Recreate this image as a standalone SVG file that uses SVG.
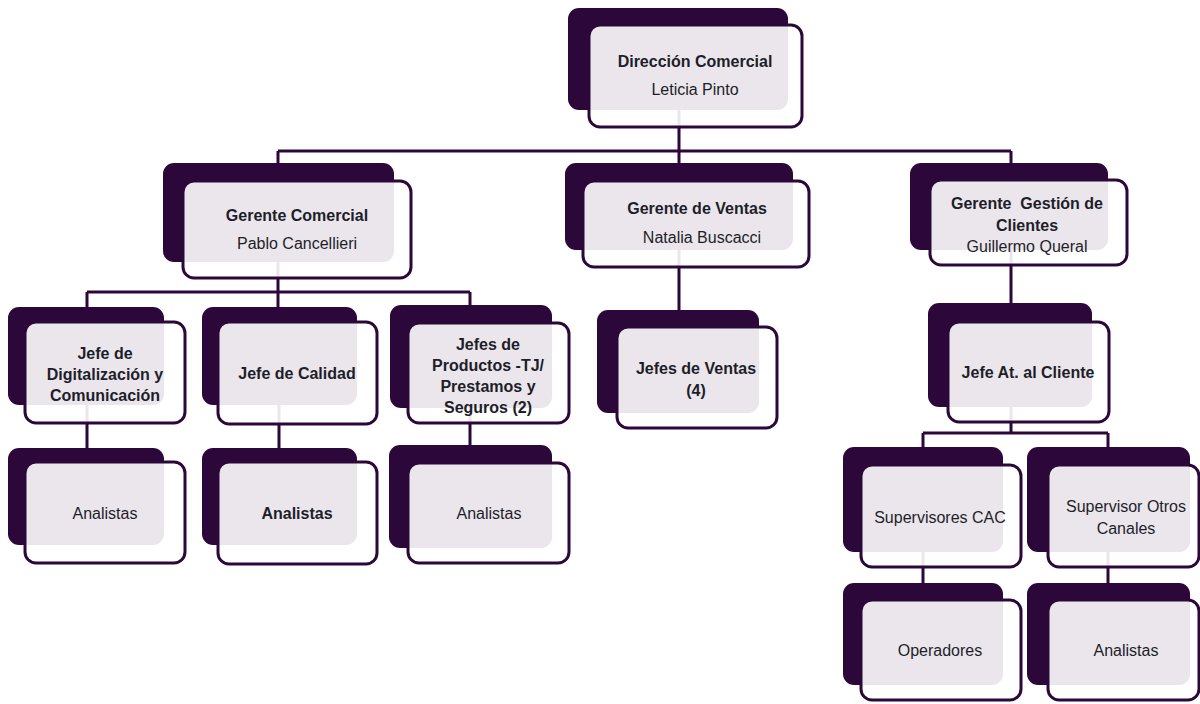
<svg xmlns="http://www.w3.org/2000/svg" width="1200" height="704" viewBox="0 0 1200 704">
<style>
.bk{fill:#2b0839}
.fr{fill:#fff;fill-opacity:.9;stroke:#2b0839;stroke-width:3}
.ln{fill:none;stroke:#2b0839;stroke-width:3}
text{font-family:"Liberation Sans",Arial,sans-serif;font-size:16px;fill:#1e1e2a;text-anchor:middle;white-space:pre}
.b{font-weight:bold}
</style>
<rect width="1200" height="704" fill="#fff"/>
<g id="connectors">
<path class="ln" d="M679 76V151M278 151H1011M278 151V165M1011 151V165M679 151V312"/>
<path class="ln" d="M278 230V292M87 292H470M87 292V309M278 292V309M470 292V307"/>
<path class="ln" d="M87 372V449M279 372V449M470 372V447"/>
<path class="ln" d="M1011 222V305M1011 372V433M923 433H1108M923 433V449M1108 433V449"/>
<path class="ln" d="M923 516V585M1108 516V585"/>
</g>
<g id="n-direccion">
<rect class="bk" x="568" y="8" width="220" height="102" rx="11"/>
<rect class="fr" x="589" y="25" width="213" height="102" rx="11"/>
<text class="b" x="695" y="67">Dirección Comercial</text>
<text x="695" y="95">Leticia Pinto</text>
</g>
<g id="n-gerente-comercial">
<rect class="bk" x="163" y="163" width="231" height="99" rx="11"/>
<rect class="fr" x="183" y="181" width="228" height="97" rx="11"/>
<text class="b" x="297" y="221">Gerente Comercial</text>
<text x="297" y="249">Pablo Cancellieri</text>
</g>
<g id="n-gerente-ventas">
<rect class="bk" x="565" y="163" width="228" height="87" rx="11"/>
<rect class="fr" x="583" y="181" width="226" height="86" rx="11"/>
<text class="b" x="697" y="214">Gerente de Ventas</text>
<text x="702" y="243">Natalia Buscacci</text>
</g>
<g id="n-gerente-gestion">
<rect class="bk" x="910" y="163" width="198" height="87" rx="11"/>
<rect class="fr" x="930" y="180" width="197" height="85" rx="11"/>
<text class="b" x="1027" y="209">Gerente  Gestión de</text>
<text class="b" x="1027" y="231">Clientes</text>
<text x="1027" y="252">Guillermo Queral</text>
</g>
<g id="n-jefe-digitalizacion">
<rect class="bk" x="8" y="307" width="156" height="98" rx="11"/>
<rect class="fr" x="25" y="322" width="160" height="101" rx="11"/>
<text class="b" x="105" y="359">Jefe de</text>
<text class="b" x="105" y="380">Digitalización y</text>
<text class="b" x="105" y="401">Comunicación</text>
</g>
<g id="n-jefe-calidad">
<rect class="bk" x="202" y="307" width="155" height="98" rx="11"/>
<rect class="fr" x="218" y="322" width="159" height="102" rx="11"/>
<text class="b" x="297" y="379">Jefe de Calidad</text>
</g>
<g id="n-jefes-productos">
<rect class="bk" x="390" y="305" width="162" height="103" rx="11"/>
<rect class="fr" x="408" y="323" width="161" height="100" rx="11"/>
<text class="b" x="488" y="350">Jefes de</text>
<text class="b" x="488" y="371">Productos -TJ/</text>
<text class="b" x="488" y="392">Prestamos y</text>
<text class="b" x="488" y="413">Seguros (2)</text>
</g>
<g id="n-jefes-ventas">
<rect class="bk" x="597" y="310" width="162" height="103" rx="11"/>
<rect class="fr" x="617" y="327" width="160" height="101" rx="11"/>
<text class="b" x="696" y="374">Jefes de Ventas</text>
<text class="b" x="696" y="396">(4)</text>
</g>
<g id="n-jefe-at-cliente">
<rect class="bk" x="928" y="303" width="164" height="104" rx="11"/>
<rect class="fr" x="948" y="322" width="161" height="100" rx="11"/>
<text class="b" x="1028" y="378">Jefe At. al Cliente</text>
</g>
<g id="n-analistas-1">
<rect class="bk" x="8" y="448" width="156" height="97" rx="11"/>
<rect class="fr" x="25" y="462" width="160" height="101" rx="11"/>
<text x="105" y="519">Analistas</text>
</g>
<g id="n-analistas-2">
<rect class="bk" x="202" y="448" width="155" height="97" rx="11"/>
<rect class="fr" x="218" y="462" width="159" height="102" rx="11"/>
<text class="b" x="297" y="519">Analistas</text>
</g>
<g id="n-analistas-3">
<rect class="bk" x="389" y="445" width="163" height="103" rx="11"/>
<rect class="fr" x="408" y="463" width="161" height="100" rx="11"/>
<text x="489" y="519">Analistas</text>
</g>
<g id="n-supervisores-cac">
<rect class="bk" x="843" y="447" width="160" height="105" rx="11"/>
<rect class="fr" x="861" y="465" width="160" height="102" rx="11"/>
<text x="940" y="523">Supervisores CAC</text>
</g>
<g id="n-supervisor-otros">
<rect class="bk" x="1027" y="447" width="163" height="105" rx="11"/>
<rect class="fr" x="1048" y="465" width="151" height="102" rx="11"/>
<text x="1126" y="512">Supervisor Otros</text>
<text x="1126" y="534">Canales</text>
</g>
<g id="n-operadores">
<rect class="bk" x="843" y="583" width="160" height="102" rx="11"/>
<rect class="fr" x="861" y="600" width="160" height="100" rx="11"/>
<text x="940" y="656">Operadores</text>
</g>
<g id="n-analistas-4">
<rect class="bk" x="1027" y="583" width="163" height="102" rx="11"/>
<rect class="fr" x="1048" y="600" width="151" height="100" rx="11"/>
<text x="1126" y="656">Analistas</text>
</g>
</svg>
